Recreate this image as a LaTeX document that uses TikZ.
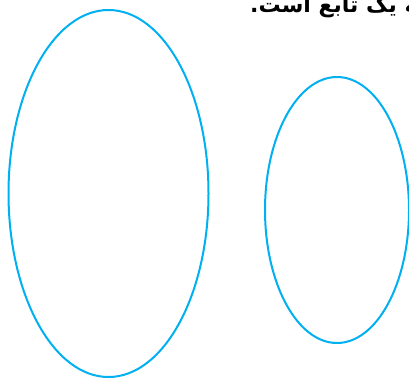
\documentclass[tikz,border=0pt]{standalone}
\usepackage{fontspec}
\usetikzlibrary{shapes.geometric}
\newfontfamily\arabicfont[Script=Arabic]{DejaVu Sans}
\TeXXeTstate=1
\definecolor{setblue}{RGB}{0,176,240}
\begin{document}
\begin{tikzpicture}[x=1pt,y=-1pt,
  setshape/.style={draw=setblue,line width=2pt}]
\useasboundingbox (0,0) rectangle (409,378);
\node[setshape,ellipse,minimum width=200pt,minimum height=367pt,inner sep=0pt] (A) at (108.5,193.5) {};
\node[setshape,ellipse,minimum width=144pt,minimum height=266pt,inner sep=0pt] (B) at (337,210) {};
\node[anchor=base west,inner sep=0pt,font=\arabicfont\bfseries\fontsize{22}{26}\selectfont] (T) at (250,12) {\beginR رابطه یک تابع است.\endR};
\end{tikzpicture}
\end{document}
